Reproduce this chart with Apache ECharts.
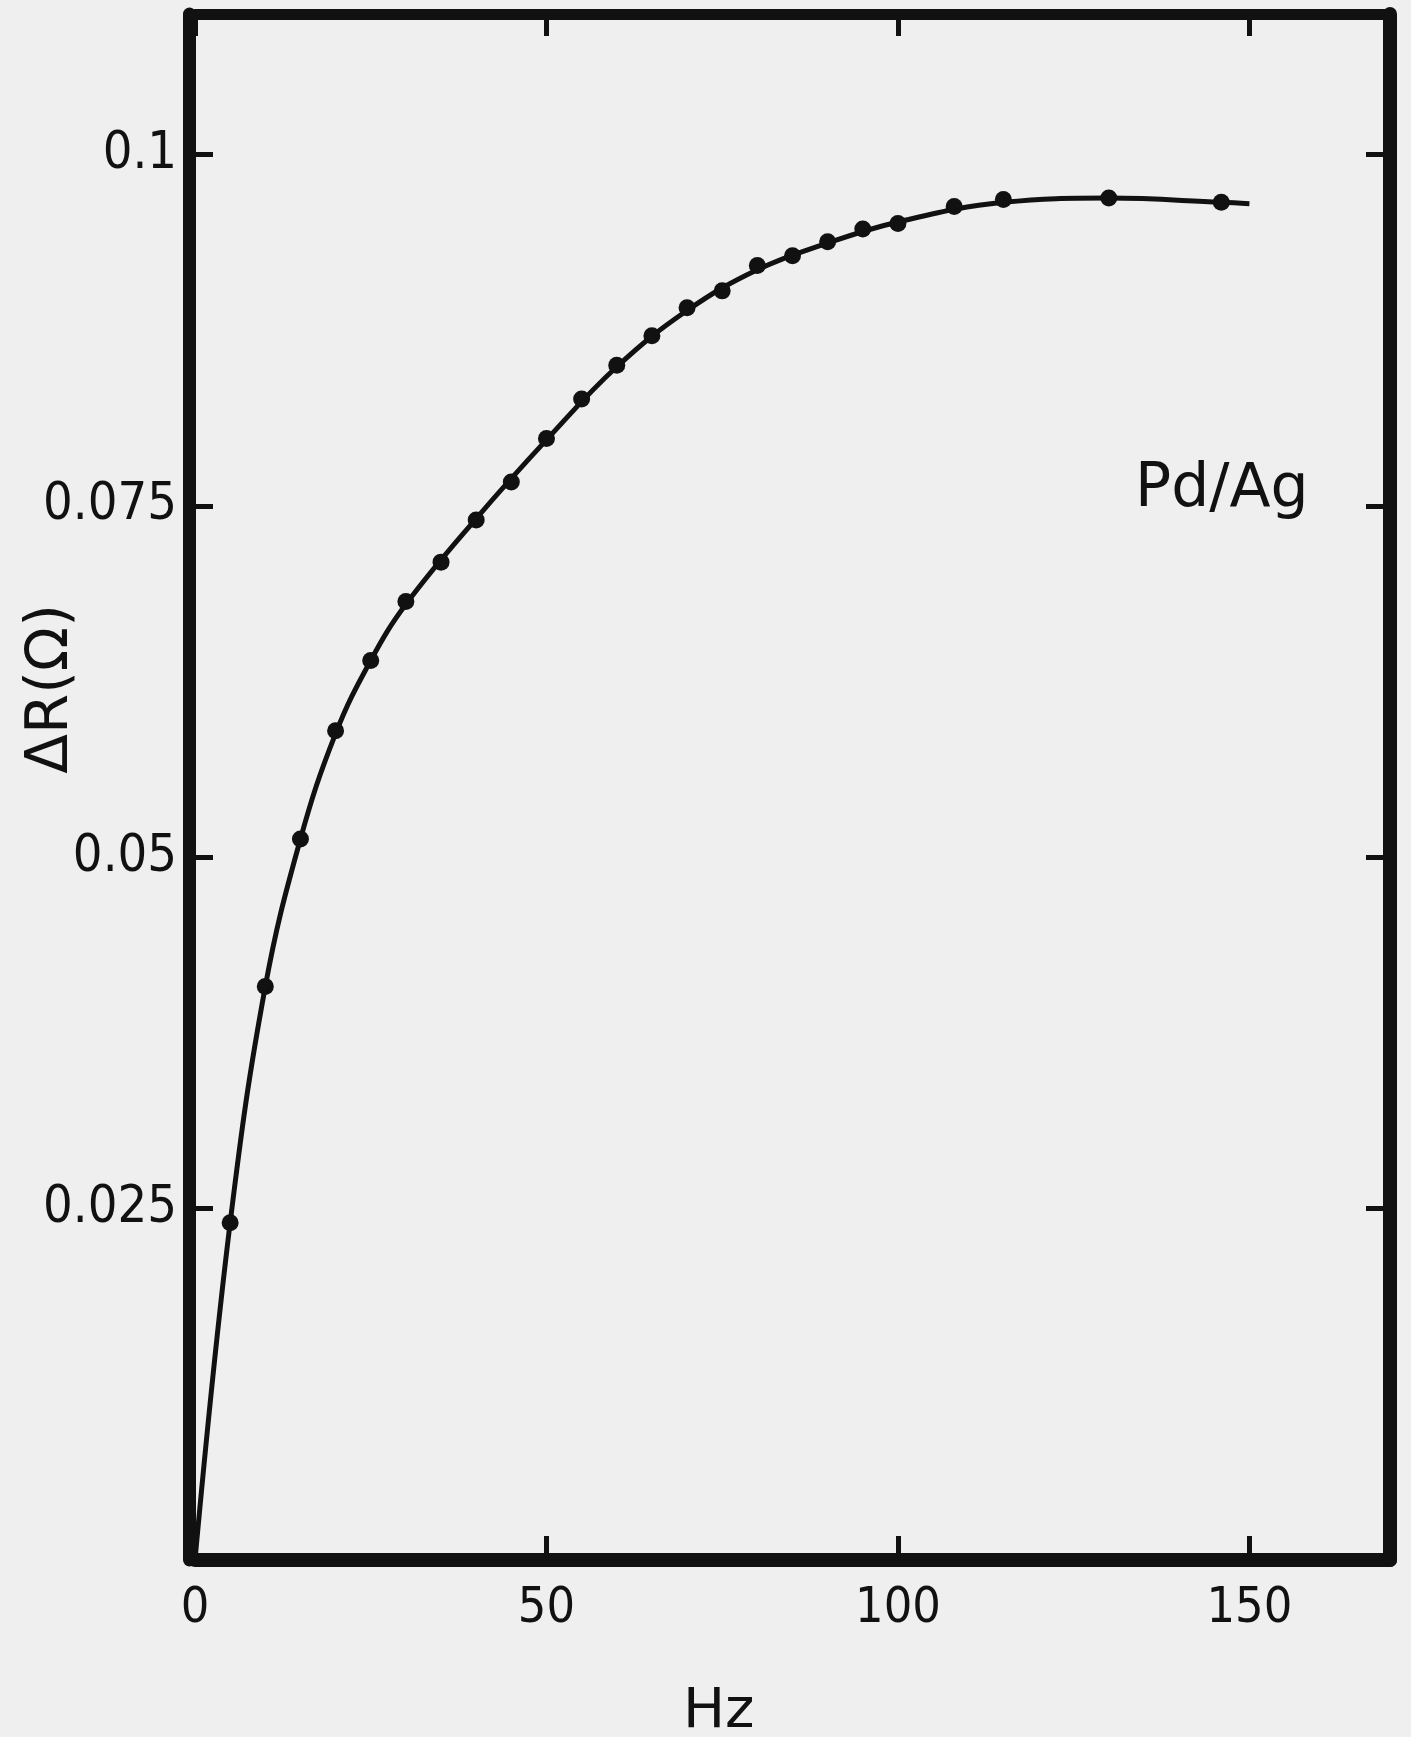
<!DOCTYPE html>
<html>
<head>
<meta charset="utf-8">
<script src="https://cdn.jsdelivr.net/npm/echarts@6/dist/echarts.min.js"></script>
<style>
html,body{margin:0;padding:0;background:#efefef;}
#chart{width:1411px;height:1737px;}
</style>
</head>
<body>
<div id="chart"></div>
<script>
// Measured points (Hz, ΔR in Ω)
var freqHz = [5, 10, 15, 20, 25, 30, 35, 40, 45, 50, 55, 60, 65, 70, 75, 80, 85, 90, 95, 100, 108, 115, 130, 146];
var deltaR = [0.0240, 0.0408, 0.0513, 0.0590, 0.0640, 0.0682, 0.0710, 0.0740, 0.0767, 0.0798, 0.0826, 0.0850, 0.0871, 0.0891, 0.0903, 0.0921, 0.0928, 0.0938, 0.0947, 0.0951, 0.0963, 0.0968, 0.0969, 0.0966];
// Drawn fit curve (hand-drawn smooth line through the data)
var curveHz = [0, 5, 10, 15, 20, 25, 30, 40, 50, 60, 70, 80, 90, 100, 115, 130, 146, 150];
var curveR  = [0, 0.0240, 0.0408, 0.0513, 0.0588, 0.0640, 0.0680, 0.0741, 0.0797, 0.0849, 0.0889, 0.0918, 0.0937, 0.0952, 0.0966, 0.0969, 0.0966, 0.0965];
var xTickLabels = ['0', '50', '100', '150'];
var yTickLabels = ['0.025', '0.05', '0.075', '0.1'];

var ink = '#111';
var fontFam = '"Liberation Sans Narrow","DejaVu Sans Condensed","Roboto",sans-serif';
var wideFam = '"DejaVu Sans","Roboto",sans-serif';

function xLabel(v) {
  var i = v / 50;
  return (Math.abs(i - Math.round(i)) < 1e-9 && xTickLabels[Math.round(i)] !== undefined) ? xTickLabels[Math.round(i)] : '';
}
function yLabel(v) {
  var r = v / 0.025, i = Math.round(r);
  return (Math.abs(r - i) < 1e-6 && i >= 1 && yTickLabels[i - 1]) ? yTickLabels[i - 1] : '';
}

var chart = echarts.init(document.getElementById('chart'), null, {renderer: 'canvas'});
chart.setOption({
  backgroundColor: '#efefef',
  animation: false,
  grid: {left: 195, right: 21, top: 14, bottom: 177},
  xAxis: [{
    type: 'value', min: 0, max: 170, interval: 50,
    axisLine: {show: true, onZero: false, lineStyle: {color: ink, width: 14}},
    axisTick: {show: true, inside: true, length: 24, lineStyle: {color: ink, width: 5}},
    axisLabel: {margin: 24, color: ink, fontSize: 50, fontFamily: fontFam, formatter: xLabel, showMaxLabel: false},
    splitLine: {show: false}
  }, {
    type: 'value', min: 0, max: 170, interval: 50, position: 'top',
    axisLine: {show: true, onZero: false, lineStyle: {color: ink, width: 11}},
    axisTick: {show: true, inside: true, length: 22, lineStyle: {color: ink, width: 5}},
    axisLabel: {show: false},
    splitLine: {show: false}
  }],
  yAxis: [{
    type: 'value', min: 0, max: 0.11, interval: 0.025, offset: 6,
    axisLine: {show: true, onZero: false, lineStyle: {color: ink, width: 13}},
    axisTick: {show: true, inside: true, length: 24, lineStyle: {color: ink, width: 5}},
    axisLabel: {margin: 12, color: ink, fontSize: 52, fontFamily: fontFam, formatter: yLabel},
    splitLine: {show: false}
  }, {
    type: 'value', min: 0, max: 0.11, interval: 0.025, position: 'right',
    axisLine: {show: true, onZero: false, lineStyle: {color: ink, width: 14}},
    axisTick: {show: true, inside: true, length: 24, lineStyle: {color: ink, width: 5}},
    axisLabel: {show: false},
    splitLine: {show: false}
  }],
  series: [{
    type: 'line',
    data: curveHz.map(function (x, i) { return [x, curveR[i]]; }),
    smooth: 0.4,
    showSymbol: false,
    lineStyle: {color: ink, width: 5},
    z: 2
  }, {
    type: 'scatter',
    data: freqHz.map(function (x, i) { return [x, deltaR[i]]; }),
    symbol: 'circle',
    symbolSize: 17,
    itemStyle: {color: ink, opacity: 1},
    z: 3
  }],
  graphic: [{
    type: 'text', left: 683, top: 1684,
    style: {text: 'Hz', fill: ink, font: '56px ' + wideFam}
  }, {
    type: 'text', x: 52, y: 689, rotation: Math.PI / 2,
    style: {text: 'ΔR(Ω)', fill: ink, font: '58px ' + wideFam, align: 'center', verticalAlign: 'middle'}
  }, {
    type: 'text', left: 1135, top: 460,
    style: {text: 'Pd/Ag', fill: ink, font: '60px ' + wideFam}
  }]
});
</script>
</body>
</html>
